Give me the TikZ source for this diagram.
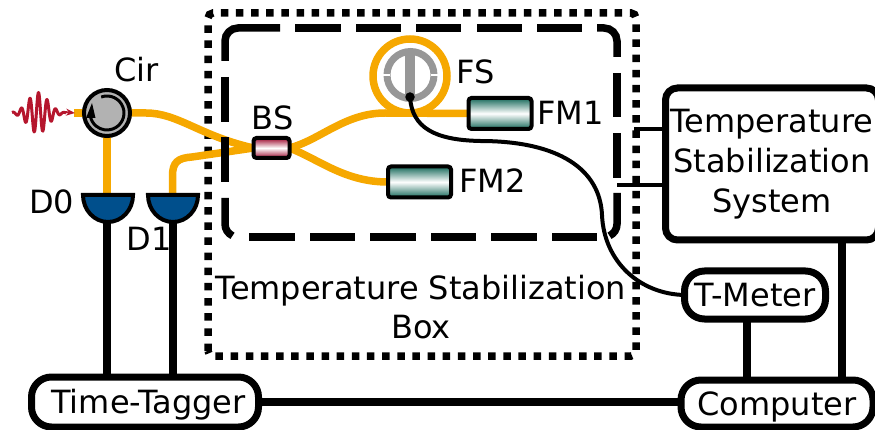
\documentclass[tikz,border=0pt]{standalone}
\usepackage{fontspec}
\setmainfont{DejaVu Sans}
\usetikzlibrary{arrows.meta}
\definecolor{fiber}{HTML}{F6A800}
\definecolor{pulse}{HTML}{B5162D}
\definecolor{detblue}{HTML}{004F8C}
\definecolor{teal1}{HTML}{17695A}
\definecolor{crim}{HTML}{9C0A2E}
\definecolor{fsgray}{HTML}{979797}
\pgfdeclarelayer{back}
\pgfdeclarelayer{mid}
\pgfsetlayers{back,mid,main}
\tikzset{
  lbl/.style={font=\fontsize{32}{39}\selectfont,inner sep=0pt,align=center},
  sysbox/.style={draw=black,line width=7pt,fill=white,rounded corners=#1,inner sep=0pt,outer sep=0pt,font=\fontsize{32}{40}\selectfont,align=center},
  onebox/.style={sysbox=#1,text height=23pt,text depth=0pt},
  fibre/.style={draw=fiber,line width=7.5pt},
  elec/.style={draw=black,line width=8pt},
  wire/.style={draw=black,line width=4pt},
  comp/.style={draw=black,line width=4pt,rounded corners=3pt,inner sep=0pt,outer sep=0pt},
  det/.style={draw=black,line width=4pt,fill=detblue},
  dashseg/.style={draw=black,line width=7.5pt,rounded corners=13pt},
  dasharc/.style={draw=black,line width=7.5pt,sharp corners},
}
\begin{document}
\begin{tikzpicture}[x=1pt,y=-1pt]
\useasboundingbox (0,0) rectangle (875,430);
\clip (0,0) rectangle (875,430);

% boxes
\begin{pgfonlayer}{back}
\draw[line width=7.5pt,dash pattern=on 7.5pt off 7.65pt,rounded corners=5pt] (208,356) -- (208,13) -- (636,13) -- (636,356) -- cycle;
\end{pgfonlayer}

% nodes
\node[sysbox=12pt,minimum width=213pt,minimum height=152pt] (tss) at (772,164) {Temperature\\Stabilization\\System};
\node[onebox=20pt,minimum width=141pt,minimum height=48pt] (tm) at (755,295) {T-Meter};
\node[onebox=20pt,minimum width=192pt,minimum height=47pt] (pc) at (777,403.5) {Computer};
\node[onebox=20pt,minimum width=227pt,minimum height=50pt] (tt) at (145,402) {\hspace*{7pt}Time-Tagger};

\node[comp,minimum width=36pt,minimum height=20pt,top color=crim,bottom color=crim,middle color=white] (bs) at (271.5,148) {};
\node[comp,minimum width=63pt,minimum height=31pt,top color=teal1,bottom color=teal1,middle color=white] (fm1) at (500,113.5) {};
\node[comp,minimum width=63pt,minimum height=31pt,top color=teal1,bottom color=teal1,middle color=white] (fm2) at (419.5,182) {};

\node[circle,draw=black,line width=4pt,fill=black!30,minimum size=46pt,inner sep=0pt,outer sep=0pt] (cir) at (107,113) {};
\draw[black,line width=3pt] ([shift={(110:17pt)}]107,113) arc[start angle=110,end angle=-170,radius=17pt];
\fill[black] (86,118) -- (95.5,118) -- (92,103) -- cycle;

% detectors
\draw[det] (83,195) -- (133,195) arc[start angle=0,end angle=-180,x radius=25pt,y radius=27pt] -- cycle;
\coordinate (d0top) at (107,195);
\coordinate (d0bot) at (106.5,222);
\draw[det] (148,195) -- (198,195) arc[start angle=0,end angle=-180,x radius=25pt,y radius=27pt] -- cycle;
\coordinate (d1top) at (172.5,195);
\coordinate (d1bot) at (172.5,222);

% fiber stretcher
\draw[fsgray,line width=7pt] (410.5,75) circle[radius=23.5pt];
\fill[white] (383,74.5) rectangle (390,76.5);
\fill[white] (431,74.5) rectangle (438,76.5);
\draw[fsgray,line width=10pt] (410,50) -- (410,97);
\node[circle,fill=black,minimum size=9.5pt,inner sep=0pt,outer sep=0pt] (dot) at (410,97) {};

% fibres
\coordinate (pin) at (74,113);
\coordinate (fsb) at (410,113);
\coordinate (up) at (385,113);
\begin{pgfonlayer}{mid}
\draw[fibre] (pin) -- (cir.west);
\draw[fibre] (cir.south) -- (d0top);
\draw[fibre] (cir.east) -- (146,113) .. controls (178,113) and (200,136) .. (bs.west);
\draw[fibre] (d1top) -- (172.5,176) .. controls (172.5,162) and (178,158) .. (192,157) -- (bs.west);
\draw[fibre] (bs.east) .. controls (320,140) and (345,113) .. (up) -- (fm1.west);
\draw[fibre] (bs.east) .. controls (320,160) and (345,182) .. (fm2.west);
\draw[fibre] (fsb) arc[start angle=-90,end angle=270,radius=37pt];
\end{pgfonlayer}

% dashed inner box, piece by piece
\draw[dashseg] (225,61) -- (225,28) -- (280,28);
\draw[dashseg] (597,28) -- (617,28) -- (617,57);
\draw[dasharc] (617,193) -- (617,224) arc[start angle=0,end angle=-65,radius=13pt];
\draw[dasharc] (225,198) -- (225,224) arc[start angle=180,end angle=245,radius=13pt];
\foreach \a/\b in {295/341,356/401,416/461,477/522,537/582}
  \draw[dashseg] (\a,28) -- (\b,28);
\foreach \a/\b in {552/597,491/537,431/476,370/416,310/355,249/295}
  \draw[dashseg] (\a,237) -- (\b,237);
\foreach \a/\b in {73/117,133/178}
  \draw[dashseg] (617,\a) -- (617,\b);
\foreach \a/\b in {77/122,137/182}
  \draw[dashseg] (225,\a) -- (225,\b);

% electrical lines
\begin{pgfonlayer}{back}
\draw[elec] (d0bot) -- (106.5,377);
\draw[elec] (d1bot) -- (172.5,377);
\draw[elec] (tt.east) -- (tt.east -| pc.west);
\draw[elec] (747,295) -- (747,380);
\draw[elec] (842,240) -- (842,380);
\end{pgfonlayer}
\coordinate (s1) at (634,129);
\coordinate (s2) at (617,185);
\draw[wire] (s1) -- (s1 -| tss.west);
\draw[wire] (s2) -- (s2 -| tss.west);
\draw[wire] (dot.center) .. controls (412,128) and (435,140) .. (480,141) .. controls (560,141) and (600,170) .. (602,215) .. controls (604,262) and (640,294) .. (tm.west);

% pulse
\draw[pulse,line width=3pt,line join=round] plot[domain=12:66,samples=160] (\x,{113-20.5*exp(-((\x-38)/14)^2)*cos(360*(\x-38.5)/8.6)});
\draw[pulse,line width=2pt,-{Stealth[length=9pt,width=7pt]}] (64,112) -- (75,113);

% labels
\node[lbl] (lcir) at (136.5,70) {Cir};
\node[lbl] (lbs) at (272.5,118) {BS};
\node[lbl] (lfs) at (476,72) {FS};
\node[lbl] (lfm1) at (570.5,113) {FM1};
\node[lbl] (lfm2) at (492.5,181) {FM2};
\node[lbl] (ld0) at (51.5,202) {D0};
\node[lbl] (ld1) at (149,239) {D1};
\node[lbl] (lbox) at (421,307) {Temperature Stabilization\\Box};
\end{tikzpicture}
\end{document}
